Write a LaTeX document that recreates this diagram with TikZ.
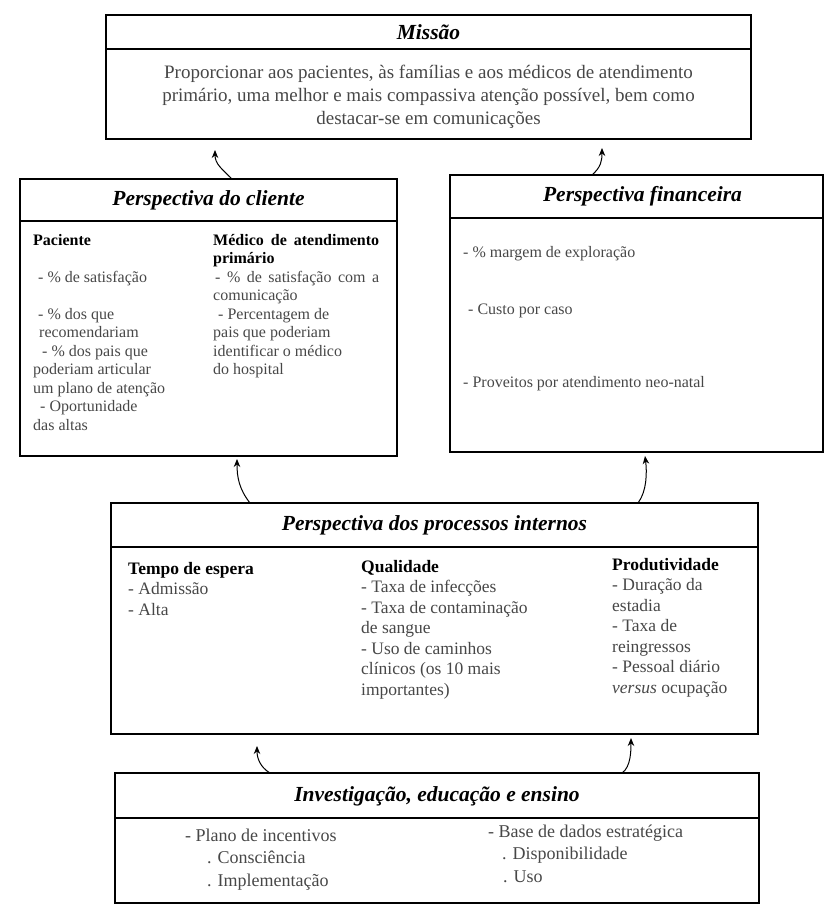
\documentclass[tikz,border=0pt]{standalone}
\usepackage{fontspec}
\setmainfont{Liberation Serif}
\usetikzlibrary{arrows.meta,calc}

\begin{document}
\begin{tikzpicture}[x=1pt,y=-1pt,
  panel/.style={draw=black, line width=1.6pt, anchor=north west, inner sep=0pt, outer sep=0pt},
  rule/.style={line width=1.6pt},
  ptitle/.style={font=\fontsize{21.5}{24}\selectfont\bfseries\itshape, anchor=center, inner sep=0pt},
  % multi-line blocks are placed by the baseline of their last line
  body/.style={anchor=base west, inner sep=0pt, align=left, text=black!72},
  small/.style={body, font=\fontsize{16}{18.5}\selectfont},
  mid/.style={body, font=\fontsize{17.5}{20.5}\selectfont},
  large/.style={body, font=\fontsize{18}{22.5}\selectfont},
  link/.style={line width=1pt, -{Stealth[length=8pt,width=6.5pt]}},
]
\useasboundingbox (0,0) rectangle (825,906);

% ---------- panels ----------
\node[panel, minimum width=645pt, minimum height=124pt] (mission) at (106,15) {};
\node[panel, minimum width=377pt, minimum height=277pt] (client) at (20,179) {};
\node[panel, minimum width=373pt, minimum height=277pt] (finance) at (450,175) {};
\node[panel, minimum width=647pt, minimum height=231pt] (process) at (111,503) {};
\node[panel, minimum width=644pt, minimum height=130pt] (research) at (115,773) {};

% header rules
\draw[rule] ($(mission.north west)+(0,34)$) -- ($(mission.north east)+(0,34)$);
\draw[rule] ($(client.north west)+(0,42)$) -- ($(client.north east)+(0,42)$);
\draw[rule] ($(finance.north west)+(0,43)$) -- ($(finance.north east)+(0,43)$);
\draw[rule] ($(process.north west)+(0,44)$) -- ($(process.north east)+(0,44)$);
\draw[rule] ($(research.north west)+(0,45)$) -- ($(research.north east)+(0,45)$);

% titles
\node[ptitle] (missionT) at ($(mission.north)+(0,17)$) {Missão};
\node[ptitle] (clientT) at ($(client.north)+(0,21)$) {Perspectiva do cliente};
\node[ptitle] (financeT) at ($(finance.north)+(6,21)$) {Perspectiva financeira};
\node[ptitle] (processT) at ($(process.north)+(0,22)$) {Perspectiva dos processos internos};
\node[ptitle] (researchT) at ($(research.north)+(0,23)$) {Investigação, educação e ensino};

% ---------- mission text ----------
\node[anchor=base, align=center, inner sep=0pt, text=black!72,
      font=\fontsize{19}{23}\selectfont] (missionB) at (428.5,124)
  {Proporcionar aos pacientes, às famílias e aos médicos de atendimento\\
   primário, uma melhor e mais compassiva atenção possível, bem como\\
   destacar-se em comunicações};

% ---------- client ----------
\node[small] (clientL) at (33,430) {%
  \textcolor{black}{\bfseries Paciente}\\[18.5pt]
  \hspace{5pt}- \% de satisfação\\[18.5pt]
  \hspace{5pt}- \% dos que\\
  \hspace{6pt}recomendariam\\
  \hspace{9pt}- \% dos pais que\\
  poderiam articular\\
  um plano de atenção\\
  \hspace{7pt}- Oportunidade\\
  das altas};
\node[small] (clientR) at (213,374.5) {%
  \textcolor{black}{\makebox[166pt][s]{\bfseries Médico de atendimento}}\\
  \textcolor{black}{\bfseries primário}\\
  \makebox[166pt][s]{\hspace{2pt}- \% de satisfação com a}\\
  comunicação\\
  \hspace{5pt}- Percentagem de\\
  pais que poderiam\\
  identificar o médico\\
  do hospital};

% ---------- finance ----------
\node[small] (finA) at (463,257) {- \% margem de exploração};
\node[small] (finB) at (468,314) {- Custo por caso};
\node[small] (finC) at (463,387) {- Proveitos por atendimento neo-natal};

% ---------- internal processes ----------
\node[mid] (procA) at (128,615) {%
  \textcolor{black}{\bfseries Tempo de espera}\\
  - Admissão\\
  - Alta};
\node[mid] (procB) at (361,695) {%
  \textcolor{black}{\bfseries Qualidade}\\
  - Taxa de infecções\\
  - Taxa de contaminação\\
  de sangue\\
  - Uso de caminhos\\
  clínicos (os 10 mais\\
  importantes)};
\node[mid] (procC) at (612,693) {%
  \textcolor{black}{\bfseries Produtividade}\\
  - Duração da\\
  estadia\\
  - Taxa de\\
  reingressos\\
  - Pessoal diário\\
  \textit{versus} ocupação};

% ---------- research, education, teaching ----------
\node[large] (resA) at (185,886) {%
  - Plano de incentivos\\
  \hspace{22pt}. Consciência\\
  \hspace{22pt}. Implementação};
\node[large] (resB) at (488,882) {%
  - Base de dados estratégica\\
  \hspace{14pt}. Disponibilidade\\
  \hspace{15pt}. Uso};

% ---------- links between perspectives ----------
\draw[link] ($(client.north west)+(212,0)$) .. controls +(-10,-10) and +(0,14) .. ($(mission.south west)+(109,11)$);
\draw[link] ($(finance.north west)+(142,0)$) .. controls +(9,-8) and +(0,13) .. ($(mission.south west)+(496,9)$);
\draw[link] ($(process.north west)+(139,0)$) .. controls +(-11,-14) and +(0,18) .. ($(client.south west)+(217,3)$);
\draw[link] ($(process.north west)+(527,0)$) .. controls +(9,-12) and +(2,16) .. ($(finance.south west)+(195,4)$);
\draw[link] ($(research.north west)+(155,0)$) .. controls +(-10,-6) and +(0,12) .. ($(process.south west)+(146,12)$);
\draw[link] ($(research.north west)+(507,0)$) .. controls +(9,-6) and +(0,12) .. ($(process.south west)+(520,4)$);
\end{tikzpicture}
\end{document}
